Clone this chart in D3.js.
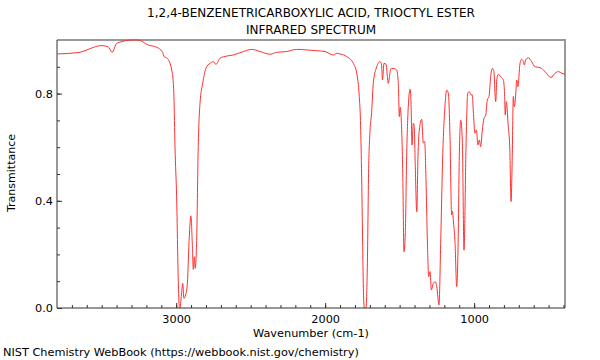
<!DOCTYPE html>
<html><head><meta charset="utf-8">
<script src="https://cdn.jsdelivr.net/npm/d3@7"></script>
<style>body{margin:0;background:#fff}svg{display:block}text{font-family:"DejaVu Sans",sans-serif}</style>
</head><body><svg id="c" width="600" height="360"></svg>
<script>
const titleLines = ["1,2,4-BENZENETRICARBOXYLIC ACID, TRIOCTYL ESTER", "INFRARED SPECTRUM"];
const xLabel = "Wavenumber (cm-1)";
const yLabel = "Transmittance";
const footer = "NIST Chemistry WebBook (https://webbook.nist.gov/chemistry)";
const xTickLabels = [3000, 2000, 1000];
const yTickLabels = [0.0, 0.4, 0.8];
const wavenumbers = [3798,3659,3500,3458,3429,3399,3288,3256,3187,3131,3090,3082,3060,3030,3019,3015,3008,2997,2986,2979,2974,2966,2956,2948,2936,2925,2912,2901,2892,2885,2878,2872,2862,2852,2840,2822,2800,2773,2751,2733,2706,2661,2617,2549,2493,2437,2370,2325,2258,2191,2124,2057,2001,1945,1923,1900,1855,1811,1788,1771,1763,1756,1748,1743,1737,1726,1717,1708,1699,1688,1677,1657,1632,1622,1615,1605,1592,1576,1560,1543,1520,1509,1502,1496,1489,1479,1471,1462,1453,1442,1430,1424,1417,1408,1402,1395,1385,1377,1368,1352,1341,1332,1323,1314,1305,1296,1287,1274,1261,1251,1236,1224,1211,1196,1184,1173,1162,1151,1145,1140,1128,1117,1106,1100,1090,1079,1068,1054,1043,1032,1021,1012,1006,994,985,974,965,956,945,934,922,912,900,889,878,867,860,855,848,838,822,804,797,791,784,771,761,752,744,737,730,721,714,706,692,681,670,663,654,636,614,591,558,524,484,457,435,412,390];
const transmittance = [0.948,0.953,0.979,0.975,0.954,0.988,1.0,1.0,0.981,0.973,0.953,0.938,0.932,0.888,0.838,0.789,0.602,0.415,0.104,0.005,0.0,0.042,0.092,0.036,0.049,0.092,0.266,0.344,0.243,0.144,0.191,0.148,0.266,0.602,0.764,0.838,0.895,0.913,0.919,0.909,0.932,0.940,0.944,0.957,0.965,0.957,0.947,0.954,0.957,0.965,0.963,0.960,0.957,0.944,0.950,0.948,0.938,0.913,0.876,0.789,0.70,0.52,0.229,0.06,0.0,0.0,0.15,0.52,0.66,0.73,0.838,0.895,0.919,0.91,0.851,0.913,0.91,0.838,0.892,0.894,0.888,0.838,0.714,0.749,0.701,0.503,0.210,0.279,0.565,0.751,0.816,0.776,0.608,0.689,0.677,0.527,0.359,0.565,0.664,0.704,0.615,0.621,0.478,0.254,0.117,0.136,0.067,0.092,0.098,0.080,0.011,0.254,0.565,0.751,0.813,0.801,0.64,0.347,0.36,0.33,0.241,0.080,0.291,0.55,0.701,0.62,0.216,0.615,0.801,0.807,0.795,0.795,0.739,0.652,0.664,0.608,0.627,0.602,0.664,0.708,0.720,0.776,0.789,0.863,0.894,0.882,0.80,0.770,0.851,0.872,0.863,0.851,0.813,0.720,0.770,0.677,0.602,0.397,0.565,0.789,0.751,0.795,0.851,0.826,0.913,0.928,0.920,0.907,0.925,0.934,0.919,0.900,0.897,0.882,0.860,0.876,0.882,0.876,0.872];

const svg = d3.select("#c");
const L = 57, R = 565, T = 40, B = 308;
const FS = 11.3;
const x = d3.scaleLinear().domain([3800, 390]).range([L, R]);
const y = d3.scaleLinear().domain([0, 1.0]).range([B, T]);

// frame top/right
svg.append("path").attr("d", `M${L},${T}H${R}V${B}`).attr("fill","none").attr("stroke","#999").attr("stroke-width",2);

// spectrum
const pts = wavenumbers.map((w,i)=>[w, transmittance[i]]);
svg.append("clipPath").attr("id","cp").append("rect").attr("x",L).attr("y",T-1).attr("width",R-L).attr("height",B-T+1);
svg.append("path").datum(pts)
  .attr("clip-path","url(#cp)")
  .attr("d", d3.line().x(d=>x(d[0])).y(d=>y(d[1])).curve(d3.curveMonotoneX))
  .attr("fill","none").attr("stroke","#ff3030").attr("stroke-width",1);

// axes
const xMinor = d3.range(3700, 390, -100);
const xa = svg.append("g").attr("transform",`translate(0,${B})`);
xa.call(d3.axisBottom(x).tickValues(xMinor).tickSize(-3).tickFormat(""));
xa.select(".domain").remove();
const xb = svg.append("g").attr("transform",`translate(0,${B})`);
xb.call(d3.axisBottom(x).tickValues(xTickLabels).tickSize(-5).tickPadding(7).tickFormat(d3.format("d")));
xb.select(".domain").attr("d",`M${L},0H${R}`).attr("stroke","#333");
xb.selectAll("text").attr("font-size",FS).attr("fill","#000");
xa.selectAll("line").attr("stroke","#333"); xb.selectAll("line").attr("stroke","#333");

const yMinor = d3.range(0.1, 1.0, 0.1);
const ya = svg.append("g").attr("transform",`translate(${L},0)`);
ya.call(d3.axisLeft(y).tickValues(yMinor).tickSize(-3).tickFormat(""));
ya.select(".domain").remove();
const yb = svg.append("g").attr("transform",`translate(${L},0)`);
yb.call(d3.axisLeft(y).tickValues(yTickLabels).tickSize(-5).tickPadding(4).tickFormat(d3.format(".1f")));
yb.select(".domain").attr("d",`M0,${T}V${B}`).attr("stroke","#333");
yb.selectAll("text").attr("font-size",FS).attr("fill","#000");
ya.selectAll("line").attr("stroke","#333"); yb.selectAll("line").attr("stroke","#333");

// texts
svg.selectAll("text.title").data(titleLines).join("text").attr("class","title")
  .attr("x",(L+R)/2).attr("y",(d,i)=>17+i*17).attr("text-anchor","middle").attr("font-size",12).text(d=>d);
svg.append("text").attr("x",(L+R)/2).attr("y",336.5).attr("text-anchor","middle").attr("font-size",FS).text(xLabel);
svg.append("text").attr("transform",`translate(15,${(T+B)/2 - 1}) rotate(-90)`).attr("text-anchor","middle").attr("font-size",11).text(yLabel);
svg.append("text").attr("x",3).attr("y",356).attr("font-size",FS).text(footer);
</script></body></html>
